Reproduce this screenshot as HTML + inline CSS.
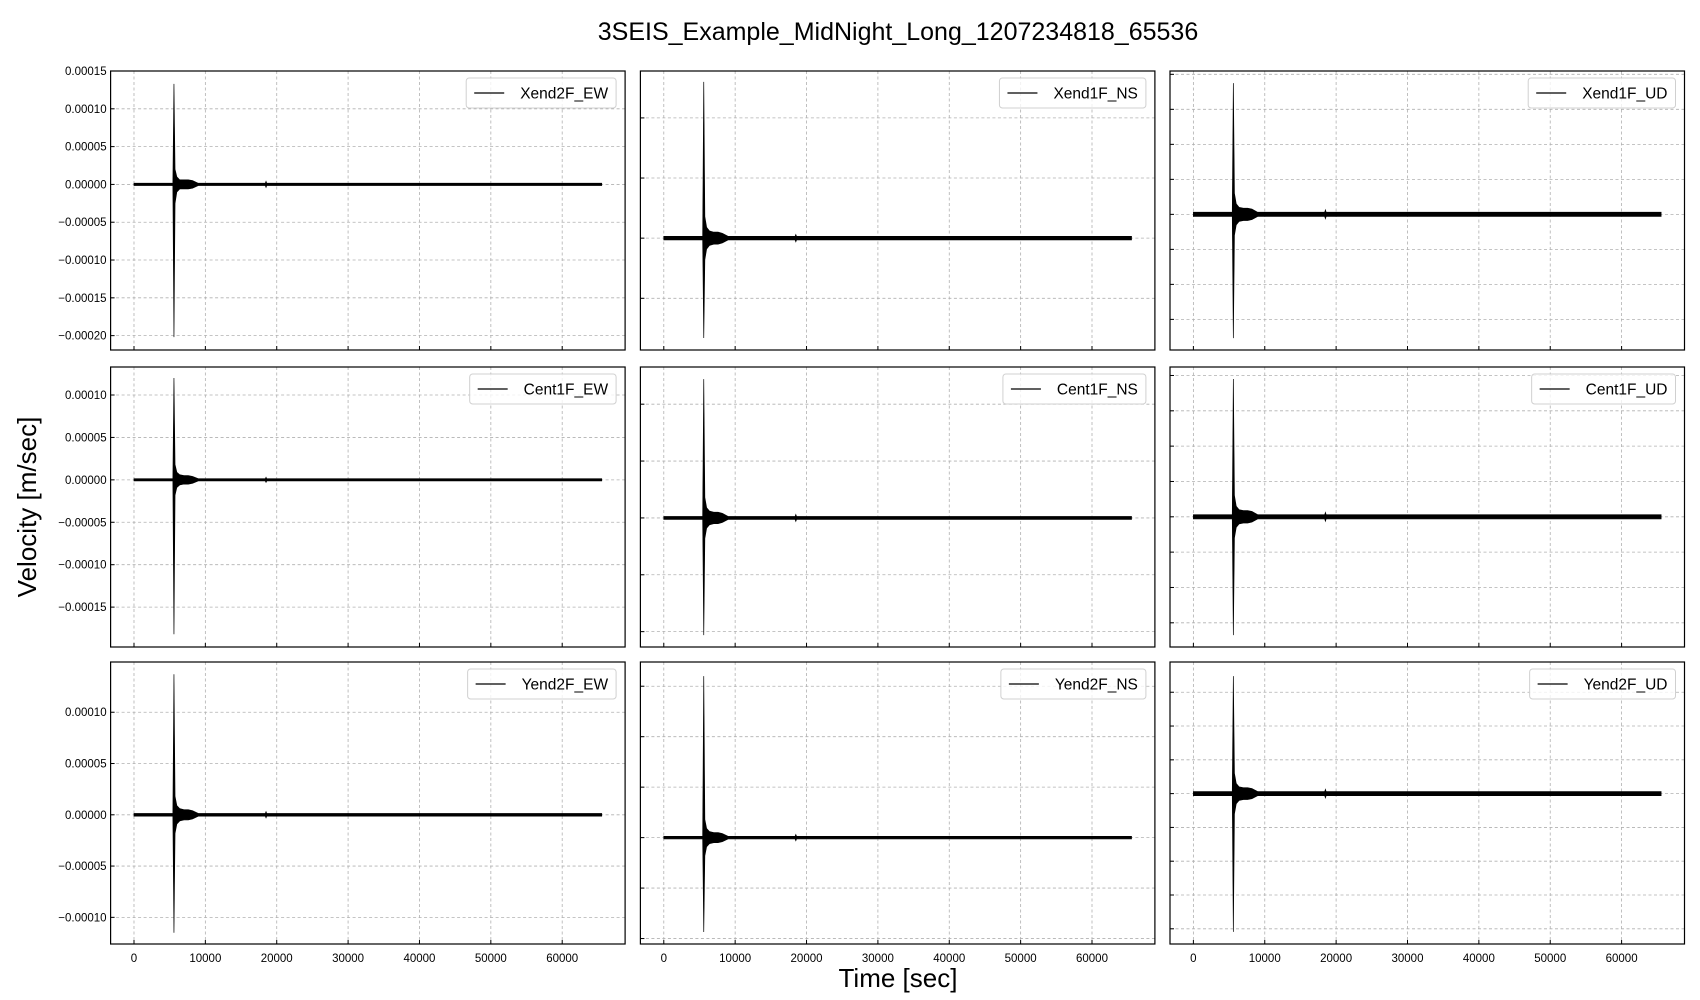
<!DOCTYPE html>
<html><head><meta charset="utf-8">
<style>
html,body{margin:0;padding:0;background:#fff;}
svg{display:block;font-family:"Liberation Sans",sans-serif;}
</style></head>
<body>
<svg id="fig" width="1700" height="1000" viewBox="0 0 1700 1000">
<text x="898" y="40" text-anchor="middle" font-size="25">3SEIS_Example_MidNight_Long_1207234818_65536</text>
<text transform="translate(36,507) rotate(-90)" text-anchor="middle" font-size="26">Velocity [m/sec]</text>
<text x="898" y="987" text-anchor="middle" font-size="26">Time [sec]</text>
<g id="panels"></g>
</svg>
<script>
// ---- data (velocities in micro m/sec) ----
const labels = ["Xend2F_EW","Xend1F_NS","Xend1F_UD","Cent1F_EW","Cent1F_NS","Cent1F_UD","Yend2F_EW","Yend2F_NS","Yend2F_UD"];
const times = [0,5450,5600,5750,6000,6400,7000,7600,8200,9000,18400,18500,18600,65536];
const baselines = [0,-50,0,0,0,0,0,0,0];
const hiP1 = [1.5,1.5,133,20,10,6,6,6,5,1.5,1.5,4,1.5,1.5];
const loP1 = [-1.5,-1.5,-202,-25,-10,-6,-6,-6,-5,-1.5,-1.5,-4,-1.5,-1.5];
const hiP2 = [1.5,1.5,130,18,9,6,5,5,4,1.5,1.5,3,1.5,1.5];
const loP2 = [-1.5,-1.5,-83,-18,-9,-6,-5,-5,-4,-1.5,-1.5,-3,-1.5,-1.5];
const hiP3 = [1.2,1.2,75,12,6,4,3.5,3.5,3,1.2,1.2,2.5,1.2,1.2];
const loP3 = [-1.2,-1.2,-70.7,-12,-6,-4,-3.5,-3.5,-3,-1.2,-1.2,-2.5,-1.2,-1.2];
const hiP4 = [1.3,1.3,120,18,9,6,5,5,4,1.3,1.3,3,1.3,1.3];
const loP4 = [-1.3,-1.3,-182,-18,-9,-6,-5,-5,-4,-1.3,-1.3,-3,-1.3,-1.3];
const hiP5 = [1.3,1.3,122,18,9,6,5,5,4,1.3,1.3,3,1.3,1.3];
const loP5 = [-1.3,-1.3,-103,-18,-9,-6,-5,-5,-4,-1.3,-1.3,-3,-1.3,-1.3];
const hiP6 = [1.2,1.2,78,12,6,4,3.5,3.5,3,1.2,1.2,2.5,1.2,1.2];
const loP6 = [-1.2,-1.2,-67,-12,-6,-4,-3.5,-3.5,-3,-1.2,-1.2,-2.5,-1.2,-1.2];
const hiP7 = [1.3,1.3,137,18,9,6,5,5,4,1.3,1.3,3,1.3,1.3];
const loP7 = [-1.3,-1.3,-115,-18,-9,-6,-5,-5,-4,-1.3,-1.3,-3,-1.3,-1.3];
const hiP8 = [1.3,1.3,160,18,9,6,5,5,4,1.3,1.3,3,1.3,1.3];
const loP8 = [-1.3,-1.3,-93.5,-18,-9,-6,-5,-5,-4,-1.3,-1.3,-3,-1.3,-1.3];
const hiP9 = [1.2,1.2,69.5,12,6,4,3.5,3.5,3,1.2,1.2,2.5,1.2,1.2];
const loP9 = [-1.2,-1.2,-81.8,-12,-6,-4,-3.5,-3.5,-3,-1.2,-1.2,-2.5,-1.2,-1.2];
const yMins = [-219,-143,-77.5,-197,-113.5,-73.7,-126,-105.4,-89];
const yMaxs = [150,89,81.9,133,132.7,84.8,149,174,77.9];
const yStepsDiv = [50,50,20,50,50,20,50,50,20];
const xTicks = [0,10000,20000,30000,40000,50000,60000];
const xMin = -3277, xMax = 68813;

const his=[hiP1,hiP2,hiP3,hiP4,hiP5,hiP6,hiP7,hiP8,hiP9];
const los=[loP1,loP2,loP3,loP4,loP5,loP6,loP7,loP8,loP9];
const colX=[110.6,640.4,1170], colW=514.5;
const rowY=[71,367,662], rowH=[279,280,282];
const NS="http://www.w3.org/2000/svg";
const root=document.getElementById('panels');
function mk(tag,attrs,parent){const e=document.createElementNS(NS,tag);for(const k in attrs)e.setAttribute(k,attrs[k]);parent.appendChild(e);return e;}
function fmt(v){const s=Math.abs(v/1e6).toFixed(5);return (v<0?"\u2212":"")+s;}

for(let i=0;i<9;i++){
  const r=Math.floor(i/3),c=i%3;
  const x0=colX[c],y0=rowY[r],w=colW,h=rowH[r];
  const ymin=yMins[i],ymax=yMaxs[i];
  const sx=t=>x0+(t-xMin)/(xMax-xMin)*w;
  const sy=v=>y0+h-(v-ymin)/(ymax-ymin)*h;
  const g=mk('g',{},root);
  
  
  const cid='clip'+i;
  const cp=mk('clipPath',{id:cid},g);mk('rect',{x:x0,y:y0,width:w,height:h},cp);
  for(const t of xTicks){
    const gl=mk('line',{x1:sx(t),x2:sx(t),y1:y0,y2:y0+h,stroke:'#b0b0b0','stroke-width':0.8,'stroke-dasharray':'3,2.5'},g);
    
    
    const tk=mk('line',{x1:sx(t),x2:sx(t),y1:y0+h,y2:y0+h-4,stroke:'#000','stroke-width':1},g);
    
    
    if(r===2){
      const tl=mk('text',{x:sx(t),y:y0+h+18,'text-anchor':'middle','font-size':11.5},g);tl.textContent=t;
      
      
    }
  }
  const st=yStepsDiv[i];
  for(let v=Math.ceil(ymin/st)*st;v<=ymax+1e-9;v+=st){
    const gl=mk('line',{x1:x0,x2:x0+w,y1:sy(v),y2:sy(v),stroke:'#b0b0b0','stroke-width':0.8,'stroke-dasharray':'3,2.5'},g);
    
    
    const tk=mk('line',{x1:x0,x2:x0+4,y1:sy(v),y2:sy(v),stroke:'#000','stroke-width':1},g);
    
    
    if(c===0){
      const tl=mk('text',{x:x0-4,y:sy(v)+4,'text-anchor':'end','font-size':11.5},g);tl.textContent=fmt(v);
      
      
    }
  }
  const b=baselines[i],hi=his[i],lo=los[i];
  let pts=[];
  for(let k=0;k<times.length;k++)pts.push(sx(times[k]).toFixed(2)+','+sy(b+hi[k]).toFixed(2));
  for(let k=times.length-1;k>=0;k--)pts.push(sx(times[k]).toFixed(2)+','+sy(b+lo[k]).toFixed(2));
  const tr=mk('polygon',{points:pts.join(' '),fill:'#000',stroke:'#000','stroke-width':0.7,'stroke-linejoin':'miter','clip-path':'url(#'+cid+')'},g);
  
  
  const fr=mk('rect',{x:x0,y:y0,width:w,height:h,fill:'none',stroke:'#000','stroke-width':1.2},g);
  
  
  const lg=mk('g',{},g);
  
  
  const lt=mk('text',{x:0,y:0,'font-size':15.5},lg);lt.textContent=labels[i];
  
  
  const tw=lt.getComputedTextLength();
  const bw=tw+62,bh=30,bx=x0+w-9-bw,by=y0+7;
  const box=mk('rect',{x:bx,y:by,width:bw,height:bh,rx:3,fill:'#fff','fill-opacity':0.8,stroke:'#d0d0d0','stroke-width':1},lg);
  
  
  lg.appendChild(lt);
  lt.setAttribute('x',bx+bw-8-tw);lt.setAttribute('y',by+20.5);
  const ll=mk('line',{x1:bx+8,x2:bx+38,y1:by+15,y2:by+15,stroke:'#000','stroke-width':1.2},lg);
  
  
}
</script>
</body></html>
